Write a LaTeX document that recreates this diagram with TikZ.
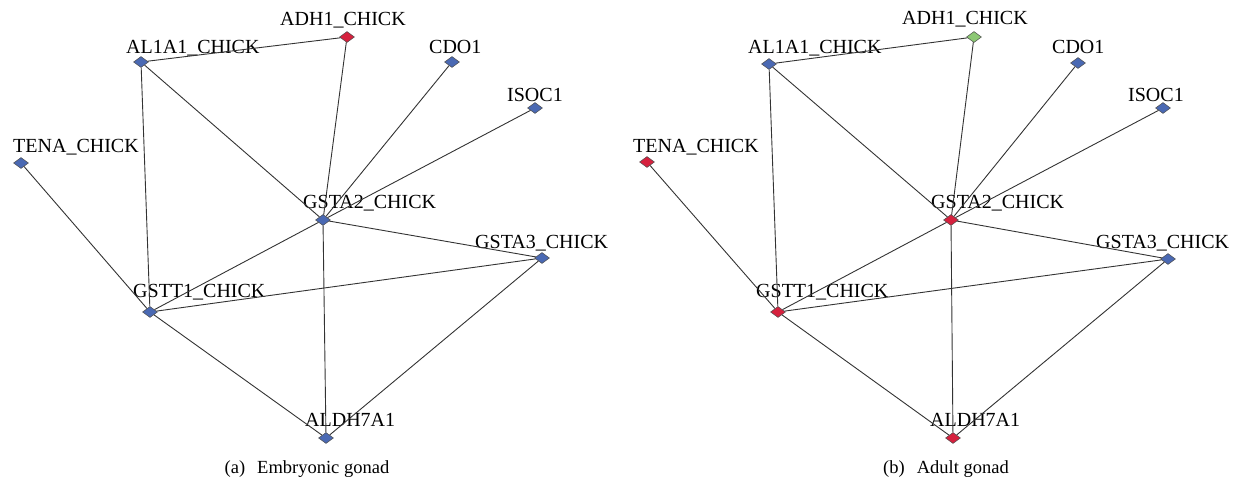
\documentclass[tikz,border=0pt]{standalone}
\usepackage{fontspec}
\setmainfont{Liberation Serif}
\usepackage{tikz}
\usetikzlibrary{shapes.geometric}
\definecolor{nodeblue}{HTML}{4A69B3}
\definecolor{nodered}{HTML}{D6213E}
\definecolor{nodegreen}{HTML}{8CC874}
\definecolor{edgegray}{HTML}{333333}
\tikzset{
  gene/.style={diamond, draw=black!70, line width=0.5pt, inner sep=0pt,
    minimum width=15pt, minimum height=11pt},
  geneblue/.style={gene, fill=nodeblue},
  genered/.style={gene, fill=nodered},
  genegreen/.style={gene, fill=nodegreen},
  genename/.style={anchor=base west, inner sep=0pt,
    font=\fontsize{20}{23}\selectfont},
  link/.style={draw=edgegray, line width=0.9pt},
  subcap/.style={anchor=base, inner sep=0pt, font=\fontsize{18.5}{21}\selectfont}
}

\begin{document}
\begin{tikzpicture}[x=1pt,y=-1pt]
    \useasboundingbox (0,0) rectangle (1235,484);
    % (a) embryonic gonad
    \node[genered] (adhE) at (347,37) {};
    \node[geneblue] (alaE) at (141,62) {};
    \node[geneblue] (cdoE) at (452,62) {};
    \node[geneblue] (isoE) at (535,108) {};
    \node[geneblue] (tenE) at (21,163) {};
    \node[geneblue] (gsaE) at (323,220) {};
    \node[geneblue] (gs3E) at (542,258) {};
    \node[geneblue] (gstE) at (150,312) {};
    \node[geneblue] (aldE) at (326,438) {};
    \node[genename] (adhE-lab) at (280,26) {ADH1\_CHICK};
    \node[genename] (alaE-lab) at (126,54) {AL1A1\_CHICK};
    \node[genename] (cdoE-lab) at (429,54) {CDO1};
    \node[genename] (isoE-lab) at (507,102) {ISOC1};
    \node[genename] (tenE-lab) at (13,153) {TENA\_CHICK};
    \node[genename] (gsaE-lab) at (303,208) {GSTA2\_CHICK};
    \node[genename] (gs3E-lab) at (475,248) {GSTA3\_CHICK};
    \node[genename] (gstE-lab) at (133,297) {GSTT1\_CHICK};
    \node[genename] (aldE-lab) at (305,426) {ALDH7A1};
    \draw[link] (alaE) -- (adhE);
    \draw[link] (adhE) -- (gsaE);
    \draw[link] (alaE) -- (gsaE);
    \draw[link] (alaE) -- (gstE);
    \draw[link] (cdoE) -- (gsaE);
    \draw[link] (isoE) -- (gsaE);
    \draw[link] (tenE) -- (gstE);
    \draw[link] (gsaE) -- (gstE);
    \draw[link] (gsaE) -- (gs3E);
    \draw[link] (gsaE) -- (aldE);
    \draw[link] (gstE) -- (gs3E);
    \draw[link] (gstE) -- (aldE);
    \draw[link] (gs3E) -- (aldE);
    \node[subcap] (capE) at (307,473) {(a)\hspace{12pt}Embryonic gonad};
    % (b) adult gonad
    \node[genegreen] (adhA) at (974,37) {};
    \node[geneblue] (alaA) at (769,64) {};
    \node[geneblue] (cdoA) at (1078,63) {};
    \node[geneblue] (isoA) at (1163,108) {};
    \node[genered] (tenA) at (647,162) {};
    \node[genered] (gsaA) at (951,220) {};
    \node[geneblue] (gs3A) at (1168,259) {};
    \node[genered] (gstA) at (778,312) {};
    \node[genered] (aldA) at (953,438) {};
    \node[genename] (adhA-lab) at (902,25) {ADH1\_CHICK};
    \node[genename] (alaA-lab) at (748,54) {AL1A1\_CHICK};
    \node[genename] (cdoA-lab) at (1052,54) {CDO1};
    \node[genename] (isoA-lab) at (1128,102) {ISOC1};
    \node[genename] (tenA-lab) at (633,153) {TENA\_CHICK};
    \node[genename] (gsaA-lab) at (931,208) {GSTA2\_CHICK};
    \node[genename] (gs3A-lab) at (1096,248) {GSTA3\_CHICK};
    \node[genename] (gstA-lab) at (756,297) {GSTT1\_CHICK};
    \node[genename] (aldA-lab) at (930,426) {ALDH7A1};
    \draw[link] (alaA) -- (adhA);
    \draw[link] (adhA) -- (gsaA);
    \draw[link] (alaA) -- (gsaA);
    \draw[link] (alaA) -- (gstA);
    \draw[link] (cdoA) -- (gsaA);
    \draw[link] (isoA) -- (gsaA);
    \draw[link] (tenA) -- (gstA);
    \draw[link] (gsaA) -- (gstA);
    \draw[link] (gsaA) -- (gs3A);
    \draw[link] (gsaA) -- (aldA);
    \draw[link] (gstA) -- (gs3A);
    \draw[link] (gstA) -- (aldA);
    \draw[link] (gs3A) -- (aldA);
    \node[subcap] (capA) at (946,473) {(b)\hspace{12pt}Adult gonad};
\end{tikzpicture}
\end{document}
